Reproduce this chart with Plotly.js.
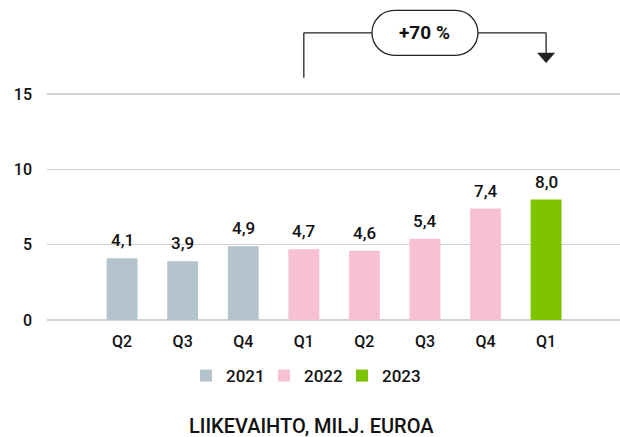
<!DOCTYPE html>
<html>
<head>
<meta charset="utf-8">
<script src="https://cdn.plot.ly/plotly-3.0.1.min.js"></script>
<style>html,body{margin:0;padding:0;background:#fff;}#chart{width:620px;height:437px;}</style>
</head>
<body>
<div id="chart"></div>
<script>
// ---- data ----
const quarters = ['Q2','Q3','Q4','Q1','Q2','Q3','Q4','Q1'];
const years    = ['2021','2021','2021','2022','2022','2022','2022','2023'];
const values   = [4.1, 3.9, 4.9, 4.7, 4.6, 5.4, 7.4, 8.0];
const seriesNames  = ['2021','2022','2023'];
const seriesColors = ['#b4c4cc','#f7c1d2','#7dc300'];
const yTicks = [0, 5, 10, 15];
const chartTitle = 'LIIKEVAIHTO, MILJ. EUROA';
const growthLabel = '+70 %';
const growthFrom = 3, growthTo = 7;

const FONT = 'Roboto, "Open Sans", sans-serif';
const TXT = '#111111';
const W = 500;
const idx = quarters.map((_, i) => i);
const fmt = v => v.toFixed(1).replace('.', ',');

const traces = seriesNames.map((name, s) => {
  const ii = idx.filter(i => years[i] === name);
  return {
    type: 'bar', name: name,
    x: ii, y: ii.map(i => values[i]),
    marker: {color: seriesColors[s], line: {width: 0}},
    width: 0.51, hoverinfo: 'skip'
  };
});

const valueAnns = idx.map(i => ({
  x: i, y: values[i], xref: 'x', yref: 'y',
  text: fmt(values[i]), showarrow: false,
  yanchor: 'middle', yshift: 18,
  font: {family: FONT, size: 17, color: TXT, weight: W}
}));

const yc = 19.07, ry = 1.493, ky = 0.825;
const pill = `M-30.5,${yc+ry} L30.5,${yc+ry} C42.93,${yc+ry} 53,${yc+ky} 53,${yc} C53,${yc-ky} 42.93,${yc-ry} 30.5,${yc-ry} L-30.5,${yc-ry} C-42.93,${yc-ry} -53,${yc-ky} -53,${yc} C-53,${yc+ky} -42.93,${yc+ry} -30.5,${yc+ry} Z`;
const lineStyle = {color: '#222', width: 1.3};
const shapes = [
  {type: 'line', xref: 'x', yref: 'y', x0: growthFrom, x1: growthFrom, y0: 16.08, y1: yc, line: lineStyle},
  {type: 'line', xref: 'x', yref: 'y', x0: growthFrom, x1: growthTo, y0: yc, y1: yc, line: lineStyle},
  {type: 'line', xref: 'x', yref: 'y', x0: growthTo, x1: growthTo, y0: yc, y1: 17.74, line: lineStyle},
  {type: 'path', xref: 'x', yref: 'y', xsizemode: 'pixel', xanchor: (growthFrom + growthTo) / 2,
   path: pill, fillcolor: '#fff', line: lineStyle},
  {type: 'path', xref: 'x', yref: 'y', xsizemode: 'pixel', xanchor: growthTo,
   path: 'M-9,17.74 L9,17.74 L0,17.07 Z', fillcolor: '#222', line: {width: 0}}
];

const layout = {
  width: 620, height: 437,
  margin: {l: 47, r: 0, t: 0, b: 116.7, pad: 0},
  paper_bgcolor: '#fff', plot_bgcolor: '#fff',
  font: {family: FONT, color: TXT, size: 16, weight: W},
  barmode: 'overlay',
  showlegend: true,
  legend: {orientation: 'h', xref: 'container', yref: 'container',
           x: 186/620, xanchor: 'left', y: 1 - 376/437, yanchor: 'middle',
           entrywidth: 33, font: {family: FONT, size: 17, color: TXT, weight: W},
           traceorder: 'normal'},
  title: {text: chartTitle, xref: 'container', yref: 'container',
          x: 0.502, xanchor: 'center', y: 1 - 426/437, yanchor: 'middle',
          font: {family: FONT, size: 20, color: TXT, weight: W}},
  xaxis: {type: 'linear', range: [-1.24, 8.22], tickvals: idx, ticktext: quarters,
          showgrid: false, zeroline: false, showline: false, ticks: '',
          ticklabelstandoff: 10, tickfont: {family: FONT, size: 16, color: TXT, weight: W},
          fixedrange: true},
  yaxis: {range: [0, 21.25], tickvals: yTicks, showgrid: true, gridcolor: '#d2d2d2',
          gridwidth: 1.5, zeroline: true, zerolinecolor: '#d2d2d2', zerolinewidth: 1.5,
          showline: false, ticks: '', ticklabelstandoff: 14,
          tickfont: {family: FONT, size: 16, color: TXT, weight: W}, fixedrange: true},
  shapes: shapes,
  annotations: valueAnns.concat([{
    x: (growthFrom + growthTo) / 2, y: yc, xref: 'x', yref: 'y',
    text: '<b>' + growthLabel + '</b>', showarrow: false,
    font: {family: FONT, size: 19, color: TXT}
  }])
};

Plotly.newPlot('chart', traces, layout, {displayModeBar: false, staticPlot: true});
</script>
</body>
</html>
